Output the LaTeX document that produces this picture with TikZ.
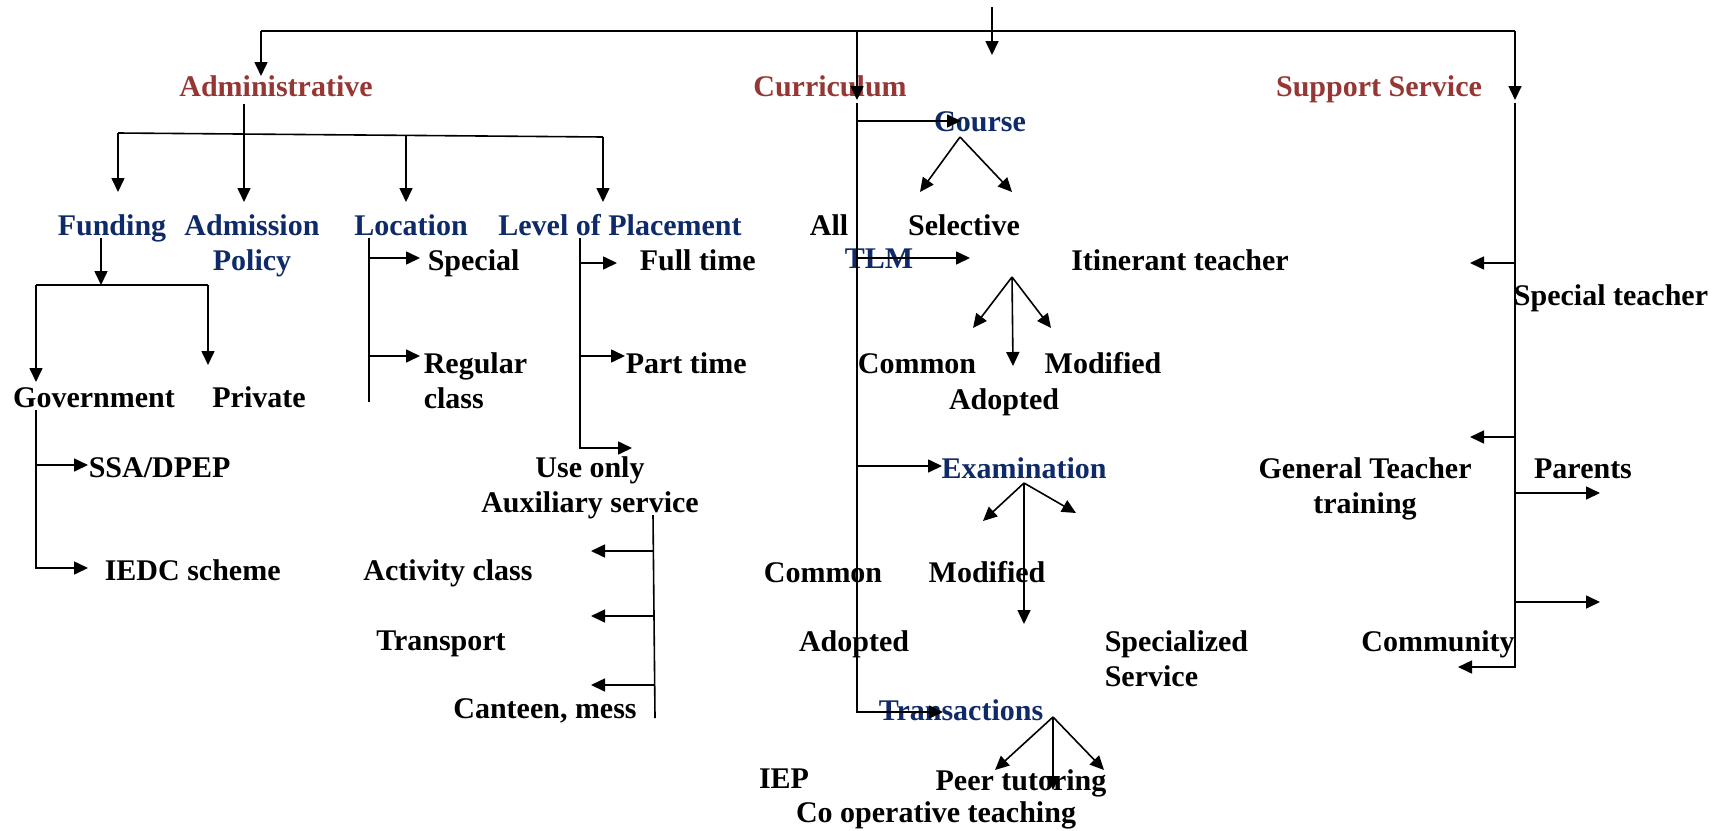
\documentclass[tikz,border=0pt]{standalone}
\usepackage{fontspec}
\setmainfont{Liberation Serif}
\usetikzlibrary{arrows.meta}
\definecolor{headred}{HTML}{953734}
\definecolor{subblue}{HTML}{0F2A68}
\begin{document}
\begin{tikzpicture}[x=0.5pt, y=-0.5pt,
   every node/.style={inner sep=0pt, font=\fontsize{15}{17.5}\selectfont\bfseries},
   head/.style={text=headred, anchor=base},
   sub/.style={text=subblue, anchor=base, align=center},
   leaf/.style={anchor=base, align=center},
   leafw/.style={anchor=base west, align=left},
   arr/.style={-{Triangle[length=7pt,width=6.5pt]}},
   line width=0.8pt]
\useasboundingbox (0,0) rectangle (1716,830);

% main headings
\node[head] (adm) at (276,96) {Administrative};
\node[head] (cur) at (830,96) {Curriculum};
\node[head] (sup) at (1379,96) {Support Service};

% administrative side (multi-line nodes sit on their last line)
\node[sub] (fund) at (112,235) {Funding};
\node[sub] (admp) at (252,270) {Admission\\Policy};
\node[sub] (loc) at (411,235) {Location};
\node[sub] (lop) at (620,235) {Level of Placement};
\node[leaf] (gov) at (94,407) {Government};
\node[leaf] (priv) at (259,407) {Private};
\node[leafw] (ssa) at (88,477) {SSA/DPEP};
\node[leafw] (iedc) at (104,580) {IEDC scheme};
\node[leafw] (spec) at (427,270) {Special};
\node[leafw] (reg) at (423,408) {Regular\\class};
\node[leafw] (full) at (639,270) {Full time};
\node[leafw] (part) at (625,373) {Part time};
\node[leaf] (use) at (590,512) {Use only\\Auxiliary service};
\node[leaf] (act) at (448,580) {Activity class};
\node[leaf] (trans) at (441,650) {Transport};
\node[leaf] (cant) at (545,718) {Canteen, mess};

% curriculum side
\node[sub] (course) at (980,131) {Course};
\node[leaf] (all) at (829,235) {All};
\node[leaf] (sel) at (964,235) {Selective};
\node[sub] (tlm) at (879,268) {TLM};
\node[leaf] (itin) at (1180,270) {Itinerant teacher};
\node[leaf] (comA) at (917,373) {Common};
\node[leaf] (modA) at (1103,373) {Modified};
\node[leaf] (adpA) at (1004,409) {Adopted};
\node[sub] (exam) at (1024,478) {Examination};
\node[leaf] (comB) at (823,582) {Common};
\node[leaf] (modB) at (987,582) {Modified};
\node[leaf] (adpB) at (854,651) {Adopted};
\node[leafw] (specs) at (1104,686) {Specialized\\Service};
\node[sub] (tra) at (961,720) {Transactions};
\node[leaf] (iep) at (784,788) {IEP};
\node[leaf] (peer) at (1021,790) {Peer tutoring};
\node[leaf] (coop) at (936,822) {Co operative teaching};

% support side
\node[leaf] (stch) at (1611,305) {Special teacher};
\node[leaf] (gtt) at (1365,513) {General Teacher\\training};
\node[leaf] (par) at (1583,478) {Parents};
\node[leaf] (comm) at (1438,651) {Community};

% top bar
\coordinate (top) at (992,7);
\coordinate (topT) at (992,55);
\coordinate (barL) at (261,31);
\coordinate (barM) at (857,31);
\coordinate (barR) at (1515,31);
\coordinate (admT) at (261,76);
\coordinate (curT) at (857,100);
\coordinate (supT) at (1515,100);
\draw[arr] (top) -- (topT);
\draw (barL) -- (barR);
\draw[arr] (barL) -- (admT);
\draw[arr] (barM) -- (curT);
\draw[arr] (barR) -- (supT);

% administrative branches
\coordinate (a0) at (244,104);
\coordinate (bL) at (118,133);
\coordinate (bLoc) at (406,135.5);
\coordinate (bR) at (603,137);
\coordinate (fundT) at (118,192);
\coordinate (admpT) at (244,202);
\coordinate (locT) at (406,202);
\coordinate (lopT) at (603,202);
\draw (bL) -- (bR);
\draw[arr] (bL) -- (fundT);
\draw[arr] (a0) -- (admpT);
\draw[arr] (bLoc) -- (locT);
\draw[arr] (bR) -- (lopT);

% funding
\coordinate (f0) at (101,238);
\coordinate (f1) at (101,285);
\coordinate (fL) at (36,285);
\coordinate (fR) at (208,285);
\coordinate (govT) at (36,382);
\coordinate (privT) at (208,365);
\draw[arr] (f0) -- (f1);
\draw (fL) -- (fR);
\draw[arr] (fL) -- (govT);
\draw[arr] (fR) -- (privT);
\coordinate (g0) at (36,410);
\coordinate (g1) at (36,465);
\coordinate (ssaT) at (88,465);
\coordinate (iedcT) at (88,568);
\draw[arr] (g0) |- (iedcT);
\draw[arr] (g1) -- (ssaT);

% location
\coordinate (l0) at (369,238);
\coordinate (l1) at (369,258);
\coordinate (l2) at (369,356);
\coordinate (l3) at (369,402);
\coordinate (specT) at (420,258);
\coordinate (regT) at (420,356);
\draw (l0) -- (l3);
\draw[arr] (l1) -- (specT);
\draw[arr] (l2) -- (regT);

% level of placement
\coordinate (p0) at (580,238);
\coordinate (p1) at (580,263);
\coordinate (p2) at (580,356);
\coordinate (fullT) at (617,263);
\coordinate (partT) at (625,356);
\coordinate (useT) at (632,448);
\draw[arr] (p0) |- (useT);
\draw[arr] (p1) -- (fullT);
\draw[arr] (p2) -- (partT);

% auxiliary service
\coordinate (x0) at (653,515);
\coordinate (x1) at (653,551);
\coordinate (x2) at (654,616);
\coordinate (x3) at (655,685);
\coordinate (x4) at (655,718);
\coordinate (actT) at (591,551);
\coordinate (transT) at (591,616);
\coordinate (cantT) at (591,685);
\draw (x0) -- (x4);
\draw[arr] (x1) -- (actT);
\draw[arr] (x2) -- (transT);
\draw[arr] (x3) -- (cantT);

% curriculum branches
\coordinate (c0) at (857,103);
\coordinate (c1) at (857,121);
\coordinate (c2) at (857,258);
\coordinate (c3) at (857,466);
\coordinate (c4) at (857,712);
\coordinate (courseT) at (961,121);
\coordinate (tlmT) at (970,258);
\coordinate (examT) at (942,466);
\coordinate (traT) at (943,712);
\draw[arr] (c0) |- (traT);
\draw[arr] (c1) -- (courseT);
\draw[arr] (c2) -- (tlmT);
\draw[arr] (c3) -- (examT);

% course
\coordinate (co) at (960,137);
\coordinate (coL) at (920,192);
\coordinate (coR) at (1012,192);
\draw[arr] (co) -- (coL);
\draw[arr] (co) -- (coR);

% tlm
\coordinate (tl) at (1012,277);
\coordinate (tlL) at (973,328);
\coordinate (tlM) at (1013,366);
\coordinate (tlR) at (1051,328);
\draw[arr] (tl) -- (tlL);
\draw[arr] (tl) -- (tlM);
\draw[arr] (tl) -- (tlR);

% examination
\coordinate (ex) at (1024,483);
\coordinate (exL) at (983,521);
\coordinate (exM) at (1024,624);
\coordinate (exR) at (1076,513);
\draw[arr] (ex) -- (exL);
\draw[arr] (ex) -- (exM);
\draw[arr] (ex) -- (exR);

% transactions
\coordinate (tr) at (1053,717);
\coordinate (trL) at (995,770);
\coordinate (trM) at (1053,790);
\coordinate (trR) at (1104,770);
\draw[arr] (tr) -- (trL);
\draw[arr] (tr) -- (trM);
\draw[arr] (tr) -- (trR);

% support service
\coordinate (s0) at (1515,103);
\coordinate (s1) at (1515,263);
\coordinate (s2) at (1515,437);
\coordinate (s3) at (1515,493);
\coordinate (s4) at (1515,602);
\coordinate (s5) at (1515,667);
\coordinate (s1T) at (1470,263);
\coordinate (s2T) at (1470,437);
\coordinate (s3T) at (1600,493);
\coordinate (s4T) at (1600,602);
\coordinate (s5T) at (1458,667);
\draw[arr] (s0) |- (s5T);
\draw[arr] (s1) -- (s1T);
\draw[arr] (s2) -- (s2T);
\draw[arr] (s3) -- (s3T);
\draw[arr] (s4) -- (s4T);
\end{tikzpicture}
\end{document}
